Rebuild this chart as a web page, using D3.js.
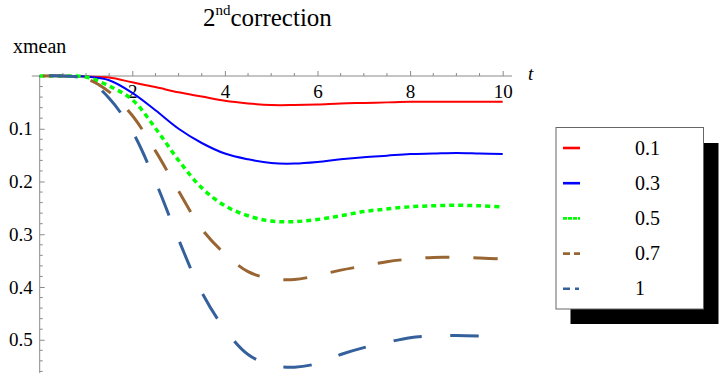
<!DOCTYPE html>
<html>
<head>
<meta charset="utf-8">
<script src="https://cdn.jsdelivr.net/npm/d3@7"></script>
<style>
  body { margin: 0; background: #fff; }
  svg { display: block; }
  text { font-family: "Liberation Serif", "Times New Roman", "DejaVu Serif", serif; fill: #000; }
  .axis path, .axis line { stroke: #8a8a8a; }
</style>
</head>
<body>
<div id="chart"></div>
<script>
const width = 720
const height = 392

// data, t from 0 to 10 in steps of 0.5
const t_values = [0, 0.5, 1, 1.5, 2, 2.5, 3, 3.5, 4, 4.5, 5, 5.5, 6, 6.5, 7, 7.5, 8, 8.5, 9, 9.5, 10]
const xmean_01 = [0, 0, 0.001, 0.003, 0.012, 0.021, 0.031, 0.039, 0.047, 0.052, 0.055, 0.055, 0.054, 0.052, 0.051, 0.050, 0.049, 0.049, 0.049, 0.049, 0.049]
const xmean_03 = [0, 0, 0.001, 0.008, 0.032, 0.065, 0.100, 0.127, 0.147, 0.158, 0.165, 0.166, 0.163, 0.158, 0.154, 0.151, 0.148, 0.147, 0.146, 0.147, 0.148]
const xmean_05 = [0, 0, 0.002, 0.019, 0.045, 0.099, 0.160, 0.212, 0.246, 0.265, 0.275, 0.276, 0.272, 0.265, 0.257, 0.252, 0.248, 0.246, 0.245, 0.246, 0.248]
const xmean_07 = [0, 0, 0.005, 0.030, 0.075, 0.142, 0.218, 0.290, 0.337, 0.371, 0.384, 0.386, 0.378, 0.368, 0.360, 0.352, 0.347, 0.344, 0.344, 0.345, 0.347]
const xmean_1 = [0, 0, 0.006, 0.042, 0.105, 0.200, 0.310, 0.410, 0.480, 0.528, 0.548, 0.552, 0.545, 0.528, 0.515, 0.505, 0.496, 0.493, 0.492, 0.493, 0.495]
const legend_labels = ["0.1", "0.3", "0.5", "0.7", "1"]
const x_ticks = [2, 4, 6, 8, 10]
const y_ticks = [0.1, 0.2, 0.3, 0.4, 0.5]

const all_series = [xmean_01, xmean_03, xmean_05, xmean_07, xmean_1]

//line styles, one per series (dash_t = t where one dash should begin)
const line_styles = [
    {color: "#ff0000", w: 2, dash: null, dash_t: null, legend_dash: null},
    {color: "#0000ff", w: 2, dash: null, dash_t: null, legend_dash: null},
    {color: "#00ff00", w: 3.5, dash: [5, 4], dash_t: null, legend_dash: "4,1"},
    {color: "#996633", w: 3, dash: [24, 24], dash_t: 5.26, legend_dash: "7,4"},
    {color: "#34609c", w: 3, dash: [28.5, 28.5], dash_t: 5.26, legend_dash: "7,5,4,5"}
]

const svg = d3.select("#chart").append("svg")
    .attr("width", width)
    .attr("height", height)
    .attr("font-family", "Liberation Serif, serif")

//scales (axes cross at t=0, xmean=0 and xmean grows downward)
const x = d3.scaleLinear().domain([0, 10]).range([39.7, 502.7])
const y = d3.scaleLinear().domain([0, 0.5]).range([76, 339.75])

//axis lines reach a little past the data
const x_axis_g = svg.append("g").attr("class", "axis").attr("transform", `translate(0,${y(0)})`)
x_axis_g.append("line")
    .attr("x1", x(-0.17)).attr("x2", x(10.2))
    .attr("stroke-width", 1)

const x_minor = d3.range(0.5, 10.01, 0.5).filter(d => !x_ticks.includes(d))
x_axis_g.selectAll(".minor").data(x_minor).join("line")
    .attr("class", "minor")
    .attr("x1", d => x(d)).attr("x2", d => x(d))
    .attr("y1", 0).attr("y2", -3)

x_axis_g.call(d3.axisBottom(x).tickValues(x_ticks).tickSize(-5).tickPadding(9).tickFormat(d3.format("d")))
x_axis_g.attr("font-family", null)
x_axis_g.select(".domain").remove()
x_axis_g.selectAll(".tick text").style("font-size", "19px").attr("fill", "#000")

const y_axis_g = svg.append("g").attr("class", "axis").attr("transform", `translate(${x(0)},0)`)
y_axis_g.append("line")
    .attr("y1", y(0)).attr("y2", y(0.563))

const y_minor = d3.range(0.02, 0.561, 0.02).filter(d => Math.abs(d * 10 - Math.round(d * 10)) > 1e-6)
y_axis_g.selectAll(".minor").data(y_minor).join("line")
    .attr("class", "minor")
    .attr("y1", d => y(d)).attr("y2", d => y(d))
    .attr("x1", 0).attr("x2", 3)

y_axis_g.call(d3.axisLeft(y).tickValues(y_ticks).tickSize(-5).tickPadding(7).tickFormat(d3.format(".1f")))
y_axis_g.attr("font-family", null)
y_axis_g.select(".domain").remove()
y_axis_g.selectAll(".tick text").style("font-size", "19px").attr("fill", "#000")

//axis labels and title
svg.append("text").attr("x", 528).attr("y", 80)
    .style("font-size", "19px").style("font-style", "italic").text("t")
svg.append("text").attr("x", 13).attr("y", 53)
    .style("font-size", "20px").text("xmean")

const title = svg.append("text").attr("x", 203).attr("y", 26).style("font-size", "25px")
title.append("tspan").text("2")
title.append("tspan").attr("dy", -11).style("font-size", "15px").text("nd")
title.append("tspan").attr("dy", 11).text("correction")

//curves
const line = d3.line()
    .x(d => x(d[0]))
    .y(d => y(d[1]))
    .curve(d3.curveCatmullRom.alpha(0.5))

//arc length along a path up to a given x
function lengthAtX(node, px){
    const total = node.getTotalLength()
    let lo = 0, hi = total
    for(let k = 0; k < 40; k++){
        const mid = (lo + hi) / 2
        if(node.getPointAtLength(mid).x < px){ lo = mid } else { hi = mid }
    }
    return lo
}

all_series.forEach((vals, i) => {
    const st = line_styles[i]
    const p = svg.append("path")
        .datum(t_values.map((t, j) => [t, vals[j]]))
        .attr("d", line)
        .attr("fill", "none")
        .attr("stroke", st.color)
        .attr("stroke-width", st.w)
    if(st.dash){
        p.attr("stroke-dasharray", st.dash.join(","))
        if(st.dash_t !== null){
            const period = st.dash[0] + st.dash[1]
            const s0 = lengthAtX(p.node(), x(st.dash_t))
            p.attr("stroke-dashoffset", period - (s0 % period))
        }
    }
})

//legend with its drop shadow
const legend = svg.append("g").attr("transform", "translate(556,127.5)")
legend.append("rect")
    .attr("x", 14.5).attr("y", 15.5)
    .attr("width", 148).attr("height", 181)
    .attr("fill", "#000")
legend.append("rect")
    .attr("x", 0).attr("y", 0)
    .attr("width", 147.5).attr("height", 181.5)
    .attr("fill", "#fff").attr("stroke", "#666").attr("stroke-width", 1)

legend_labels.forEach((lab, i) => {
    const st = line_styles[i]
    const row_y = 20.5 + i * 35.2
    legend.append("line")
        .attr("x1", 7).attr("x2", 24)
        .attr("y1", row_y).attr("y2", row_y)
        .attr("stroke", st.color)
        .attr("stroke-width", 2.6)
        .attr("stroke-dasharray", st.legend_dash)
    legend.append("text")
        .attr("x", 79).attr("y", row_y).attr("dy", "0.33em")
        .style("font-size", "20px")
        .text(lab)
})
</script>
</body>
</html>
